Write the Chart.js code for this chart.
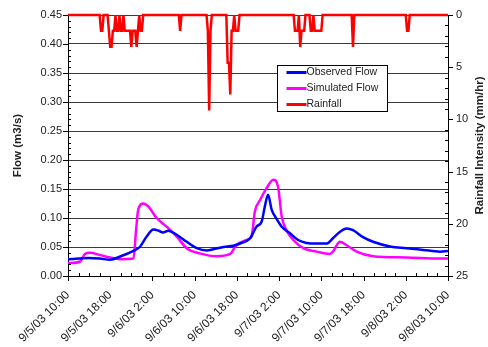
<!DOCTYPE html>
<html lang="en">
<head>
<meta charset="UTF-8">
<title>Observed vs Simulated Flow</title>
<style>
  html, body { margin: 0; padding: 0; background: #fff; }
  #wrap { width: 488px; height: 347px; }
</style>
</head>
<body>
<div id="wrap"><canvas id="flowChart" width="488" height="347"></canvas></div>

<script src="https://cdn.jsdelivr.net/npm/chart.js"></script>
<script>
// x values are hours after 9/5/03 10:00
const tickLabels = ['9/5/03 10:00', '9/5/03 18:00', '9/6/03 2:00', '9/6/03 10:00', '9/6/03 18:00',
                    '9/7/03 2:00', '9/7/03 10:00', '9/7/03 18:00', '9/8/03 2:00', '9/8/03 10:00'];

const obsHours = [0, 2, 4, 6, 8, 10, 12.3, 13.6, 14.9, 16.2, 17.2, 18, 19, 20.6, 22.5, 24.4, 26.3, 27.5,
                  29.5, 31.3, 32.6, 34.5, 35.7, 36.7, 37.3, 37.9, 38.6, 39.5, 40.5, 42, 43.6, 45.2, 47,
                  49, 50.2, 51.5, 52.8, 54, 55.9, 57.8, 61, 64.1, 67.3, 70.5, 72];
const obsFlow = [0.029, 0.030, 0.031, 0.030, 0.028, 0.034, 0.043, 0.050, 0.068, 0.080, 0.078, 0.075, 0.078,
                 0.071, 0.059, 0.048, 0.044, 0.046, 0.050, 0.052, 0.056, 0.065, 0.085, 0.094, 0.120, 0.140,
                 0.114, 0.099, 0.085, 0.074, 0.062, 0.057, 0.056, 0.056, 0.065, 0.076, 0.082, 0.079, 0.067,
                 0.059, 0.051, 0.048, 0.045, 0.042, 0.043];

const simHours = [0, 2.3, 3.2, 4.2, 6.1, 8, 9.8, 12.4, 12.9, 13.3, 14.3, 15.2, 16.8, 18.7, 20.6, 22.5, 25,
                  28.2, 30.7, 31.9, 33.8, 34.8, 35.4, 36.4, 37.6, 38.9, 39.8, 40.5, 41.4, 42.7, 44.6, 47.1,
                  49.6, 50.2, 51.5, 52.8, 54.7, 57.8, 64.1, 70.5, 72];
const simFlow = [0.022, 0.025, 0.038, 0.040, 0.036, 0.032, 0.029, 0.030, 0.079, 0.114, 0.125, 0.120, 0.100,
                 0.085, 0.068, 0.048, 0.039, 0.034, 0.038, 0.053, 0.062, 0.069, 0.111, 0.131, 0.151, 0.166,
                 0.154, 0.102, 0.079, 0.062, 0.048, 0.042, 0.038, 0.042, 0.059, 0.053, 0.042, 0.034, 0.032,
                 0.030, 0.030];

const rainHours = [0, 6, 6.25, 6.5, 6.75, 7.5, 7.75, 8, 8.25, 8.5, 8.75, 9, 9.25, 9.5, 9.75, 10, 10.25, 10.5,
                   10.75, 11, 11.25, 11.5, 11.75, 12, 12.25, 12.5, 12.75, 13, 13.25, 13.5, 13.75, 14, 14.25,
                   21, 21.25, 21.5, 26.25, 26.5, 26.75, 27, 27.25,
                   30, 30.25, 30.5, 30.75, 31, 31.25, 31.5, 31.75, 32, 32.25, 32.5,
                   42.75, 43, 43.25, 43.5, 43.75, 44, 44.25, 44.5, 44.75, 45, 45.75, 46, 46.25, 46.5,
                   46.75, 47, 47.25, 47.5, 47.75, 48, 48.25, 53.75, 54, 54.25, 64, 64.25, 64.5, 64.75, 72];
const rainRate = [0, 0, 1.52, 1.52, 0, 0, 1.52, 3.05, 3.05, 1.52, 1.52, 0, 1.52, 1.52, 0, 1.52, 1.52, 0,
                  1.52, 1.52, 1.52, 1.52, 1.52, 3.05, 1.52, 1.52, 1.52, 3.05, 1.52, 0, 1.52, 1.52, 0,
                  0, 1.52, 0, 0, 1.52, 9.14, 1.52, 0,
                  0, 4.57, 4.57, 7.62, 1.52, 1.52, 0, 1.52, 1.52, 1.52, 0,
                  0, 1.52, 1.52, 1.52, 0, 3.05, 1.52, 1.52, 1.52, 0, 0, 1.52, 1.52, 0,
                  1.52, 1.52, 1.52, 1.52, 1.52, 1.52, 0, 0, 3.05, 0, 0, 1.52, 1.52, 0, 0];

const toPoints = (xs, ys) => xs.map((h, i) => ({ x: h, y: ys[i] }));

const FONT = '"Liberation Sans", Arial, sans-serif';
const INK = '#222';

// minor/major tick marks, axis titles and the boxed legend
const extras = {
    id: 'extras',
    afterDraw(chart) {
        const { ctx, chartArea: a, scales } = chart;
        const x = scales.x, y = scales.y, y1 = scales.y1;
        ctx.save();
        ctx.strokeStyle = '#000';
        ctx.lineWidth = 1;
        ctx.beginPath();
        for (let i = 0; i <= 45; i++) {
            const py = Math.round(y.getPixelForValue(i / 100)) + 0.5;
            if (i % 5 === 0) { ctx.moveTo(a.left - 5, py); ctx.lineTo(a.left, py); }
            else { ctx.moveTo(a.left, py); ctx.lineTo(a.left + 3, py); }
        }
        for (let i = 0; i <= 25; i++) {
            const py = Math.round(y1.getPixelForValue(i)) + 0.5;
            if (i % 5 === 0) { ctx.moveTo(a.right, py); ctx.lineTo(a.right + 5, py); }
            else { ctx.moveTo(a.right - 3, py); ctx.lineTo(a.right, py); }
        }
        for (let h = 0; h <= 72; h += 2) {
            const px = Math.round(x.getPixelForValue(h)) + 0.5;
            if (h % 8 === 0) { ctx.moveTo(px, a.bottom); ctx.lineTo(px, a.bottom + 5); }
            else { ctx.moveTo(px, a.bottom - 3); ctx.lineTo(px, a.bottom); }
        }
        ctx.stroke();

        // axis titles
        const midY = (a.top + a.bottom) / 2;
        ctx.fillStyle = INK;
        ctx.font = 'bold 11.5px ' + FONT;
        ctx.textAlign = 'center';
        ctx.textBaseline = 'middle';
        ctx.save();
        ctx.translate(18, midY);
        ctx.rotate(-Math.PI / 2);
        ctx.fillText('Flow (m3/s)', 0, 0);
        ctx.restore();
        ctx.save();
        ctx.translate(480, midY);
        ctx.rotate(-Math.PI / 2);
        ctx.fillText('Rainfall Intensity (mm/hr)', 0, 0);
        ctx.restore();

        // legend box
        const bx = 277.5, by = 65.5, bw = 110, bh = 46;
        ctx.fillStyle = '#fff';
        ctx.fillRect(bx, by, bw, bh);
        ctx.strokeStyle = '#000';
        ctx.strokeRect(bx, by, bw, bh);
        ctx.font = '10.5px ' + FONT;
        ctx.textAlign = 'left';
        chart.data.datasets.forEach((ds, i) => {
            const ly = by + 7 + i * 16;
            ctx.strokeStyle = ds.borderColor;
            ctx.lineWidth = 3;
            ctx.beginPath();
            ctx.moveTo(bx + 9, ly);
            ctx.lineTo(bx + 29, ly);
            ctx.stroke();
            ctx.fillStyle = INK;
            ctx.fillText(ds.label, bx + 29, ly);
        });
        ctx.restore();
    }
};

const chart = new Chart(document.getElementById('flowChart'), {
    type: 'line',
    data: {
        datasets: [
            {
                label: 'Observed Flow',
                data: toPoints(obsHours, obsFlow),
                yAxisID: 'y',
                borderColor: '#0000ff',
                borderWidth: 2.5,
                pointRadius: 0,
                cubicInterpolationMode: 'monotone'
            },
            {
                label: 'Simulated Flow',
                data: toPoints(simHours, simFlow),
                yAxisID: 'y',
                borderColor: '#ff00ff',
                borderWidth: 2.5,
                pointRadius: 0,
                cubicInterpolationMode: 'monotone'
            },
            {
                label: 'Rainfall',
                data: toPoints(rainHours, rainRate),
                yAxisID: 'y1',
                borderColor: '#ff0000',
                borderWidth: 2.5,
                pointRadius: 0,
                tension: 0,
                clip: 4
            }
        ]
    },
    options: {
        responsive: false,
        animation: false,
        devicePixelRatio: 1,
        layout: { padding: { top: 15, left: 0, right: 0, bottom: 0 } },
        plugins: {
            legend: { display: false },
            tooltip: { enabled: false }
        },
        scales: {
            x: {
                type: 'linear',
                min: 0,
                max: 72,
                afterFit: s => { s.height = 71; },
                grid: { display: false, drawTicks: false },
                border: { display: true, color: '#000', width: 1 },
                ticks: {
                    stepSize: 8,
                    autoSkip: false,
                    maxRotation: 45,
                    minRotation: 45,
                    padding: 12,
                    color: INK,
                    font: { family: FONT, size: 12 },
                    callback: v => tickLabels[v / 8]
                }
            },
            y: {
                position: 'left',
                min: 0,
                max: 0.45,
                afterFit: s => { s.width = 68; },
                grid: { color: '#3a3a3a', lineWidth: 1, drawTicks: false },
                border: { display: true, color: '#000', width: 1 },
                ticks: {
                    stepSize: 0.05,
                    padding: 6,
                    color: INK,
                    font: { family: FONT, size: 11 },
                    callback: v => v.toFixed(2)
                }
            },
            y1: {
                position: 'right',
                min: 0,
                max: 25,
                reverse: true,
                afterFit: s => { s.width = 40; },
                grid: { display: false, drawTicks: false },
                border: { display: true, color: '#000', width: 1 },
                ticks: {
                    stepSize: 5,
                    padding: 8,
                    color: INK,
                    font: { family: FONT, size: 11 }
                }
            }
        }
    },
    plugins: [extras]
});
</script>
</body>
</html>
